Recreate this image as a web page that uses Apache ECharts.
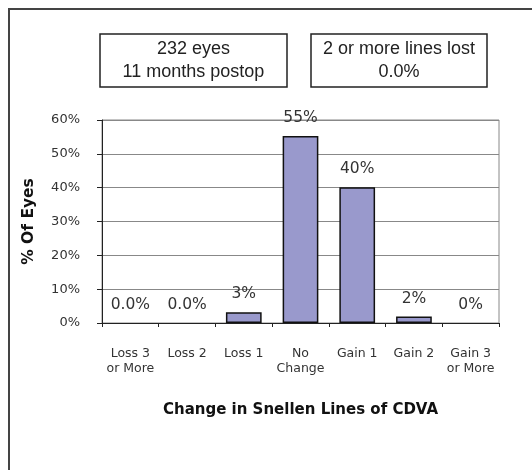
<!DOCTYPE html>
<html>
<head>
<meta charset="utf-8">
<script src="https://cdn.jsdelivr.net/npm/echarts@6/dist/echarts.min.js"></script>
<style>html,body{margin:0;padding:0;background:#fff;}#c{width:532px;height:470px;}</style>
</head>
<body>
<div id="c"></div>
<script>
var categories = ['Loss 3\nor More', 'Loss 2', 'Loss 1', 'No\nChange', 'Gain 1', 'Gain 2', 'Gain 3\nor More'];
var values = [0, 0, 3.2, 55.3, 40.1, 1.9, 0];
var valueLabels = ['0.0%', '0.0%', '3%', '55%', '40%', '2%', '0%'];
var yTicks = [0, 10, 20, 30, 40, 50, 60];
var box1Text = '232 eyes\n11 months postop';
var box2Text = '2 or more lines lost\n0.0%';

var chart = echarts.init(document.getElementById('c'), null, {renderer: 'canvas'});
var font = 'DejaVu Sans, Verdana, sans-serif';
var barData = values.map(function (v) {
  return {value: v, itemStyle: v === 0 ? {borderWidth: 0, color: 'rgba(0,0,0,0)'} : {}};
});
chart.setOption({
  backgroundColor: '#fff',
  animation: false,
  grid: {left: 102, right: 33, top: 120, bottom: 147, show: true, borderColor: '#888', borderWidth: 1},
  xAxis: {
    type: 'category',
    data: categories,
    name: 'Change in Snellen Lines of CDVA',
    nameLocation: 'middle',
    nameGap: 80,
    nameTextStyle: {fontFamily: font, fontWeight: 'bold', fontSize: 15, color: '#111'},
    axisLine: {lineStyle: {color: '#222', width: 1}},
    axisTick: {show: true, length: 4, alignWithLabel: false, lineStyle: {color: '#222'}},
    axisLabel: {fontFamily: font, fontSize: 12.5, color: '#333', margin: 23, lineHeight: 15, interval: 0}
  },
  yAxis: {
    type: 'value',
    min: 0, max: 60, interval: 10,
    name: '% Of Eyes',
    nameLocation: 'middle',
    nameGap: 65,
    nameTextStyle: {fontFamily: font, fontWeight: 'bold', fontSize: 15.5, color: '#111'},
    axisLine: {show: true, lineStyle: {color: '#222', width: 1}},
    axisTick: {show: true, length: 5, lineStyle: {color: '#222'}},
    splitLine: {lineStyle: {color: '#888', width: 1}},
    axisLabel: {fontFamily: font, fontSize: 13, color: '#333', margin: 22,
      formatter: function (v) { return yTicks.indexOf(v) >= 0 ? v + '%' : ''; }}
  },
  series: [{
    type: 'bar',
    data: barData,
    barWidth: '63%',
    itemStyle: {color: '#9999cc', borderColor: '#111', borderWidth: 1.5},
    label: {
      show: true, position: 'top', distance: 10,
      fontFamily: font, fontSize: 15.5, color: '#333',
      formatter: function (p) { return valueLabels[p.dataIndex]; }
    }
  }],
  graphic: [
    {type: 'rect', shape: {x: 9, y: 9, width: 540, height: 480}, style: {fill: null, stroke: '#444', lineWidth: 2}, silent: true},
    {type: 'rect', shape: {x: 100, y: 34, width: 187, height: 53}, style: {fill: '#fff', stroke: '#222', lineWidth: 1.5}},
    {type: 'text', x: 193.5, y: 61, style: {text: box1Text, font: '18px "Liberation Sans", Arial, sans-serif', fill: '#222', align: 'center', verticalAlign: 'middle', lineHeight: 23}},
    {type: 'rect', shape: {x: 311, y: 34, width: 176, height: 53}, style: {fill: '#fff', stroke: '#222', lineWidth: 1.5}},
    {type: 'text', x: 399, y: 61, style: {text: box2Text, font: '18px "Liberation Sans", Arial, sans-serif', fill: '#222', align: 'center', verticalAlign: 'middle', lineHeight: 23}}
  ]
});
</script>
</body>
</html>
